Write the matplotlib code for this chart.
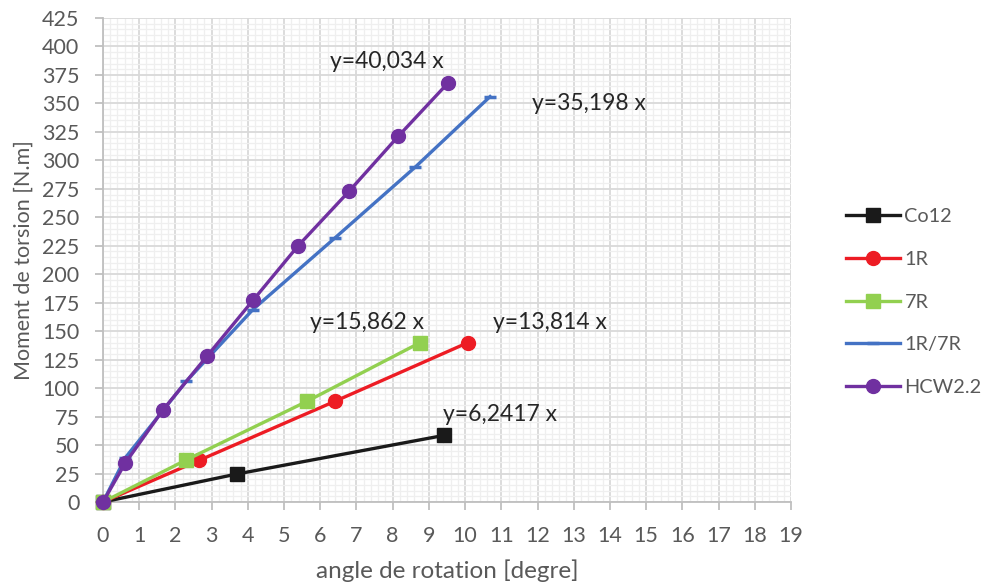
import matplotlib
matplotlib.use("Agg")
import matplotlib.pyplot as plt
from matplotlib.ticker import MultipleLocator

plt.rcParams['font.family'] = ['Lato', 'DejaVu Sans']

# Data
co12_x = [0, 3.7, 9.42]
co12_y = [0, 24.6, 58.5]
r1_x = [0, 2.65, 6.41, 10.08]
r1_y = [0, 36.5, 88.5, 140.0]
r7_x = [0, 2.29, 5.64, 8.76]
r7_y = [0, 36.8, 88.5, 140.0]
r17_x = [0, 0.62, 2.3, 4.14, 6.41, 8.62, 10.69]
r17_y = [0, 39, 106, 169, 232, 294, 356]
hcw_x = [0, 0.61, 1.66, 2.87, 4.14, 5.39, 6.80, 8.15, 9.53]
hcw_y = [0, 34, 81, 128, 177, 225, 273, 321, 368]

labels = ["Co12", "1R", "7R", "1R/7R", "HCW2.2"]
eq_texts = ["y=40,034 x", "y=35,198 x", "y=15,862 x", "y=13,814 x", "y=6,2417 x"]

fig = plt.figure(figsize=(9.84, 5.87), dpi=100)
ax = fig.add_axes([103/984, 1-502/587, (791-103)/984, (502-18)/587])

ax.set_xlim(0, 19)
ax.set_ylim(0, 425)
ax.xaxis.set_major_locator(MultipleLocator(1))
ax.xaxis.set_minor_locator(MultipleLocator(0.2))
ax.yaxis.set_major_locator(MultipleLocator(25))
ax.yaxis.set_minor_locator(MultipleLocator(5))
ax.grid(which='minor', color='#efefef', linewidth=0.9)
ax.grid(which='major', color='#d9d9d9', linewidth=1.3)
ax.set_axisbelow(True)
for s in ['top', 'right']:
    ax.spines[s].set_visible(False)
for s in ['left', 'bottom']:
    ax.spines[s].set_color('#bfbfbf')
    ax.spines[s].set_linewidth(1.3)
ax.tick_params(which='major', colors='#bfbfbf', labelcolor='#595959', labelsize=15.5, length=6, width=1.3)
ax.tick_params(which='minor', length=0)
ax.tick_params(axis='x', pad=11)
ax.tick_params(axis='y', pad=11)

lw = 2.4
ax.plot(co12_x, co12_y, color='#1a1a1a', lw=lw, marker='s', ms=10, label=labels[0], clip_on=False, zorder=3)
ax.plot(r1_x, r1_y, color='#ed1c24', lw=lw, marker='o', ms=10, label=labels[1], clip_on=False, zorder=3)
ax.plot(r7_x, r7_y, color='#92d050', lw=lw, marker='s', ms=10, label=labels[2], clip_on=False, zorder=3)
ax.plot(r17_x, r17_y, color='#4472c4', lw=lw, marker='_', ms=8, mew=2.5, label=labels[3], clip_on=False, zorder=3)
ax.plot(hcw_x, hcw_y, color='#7030a0', lw=lw, marker='o', ms=10, label=labels[4], clip_on=False, zorder=4)

tkw = dict(fontsize=16.5, color='#262626', ha='center', va='center')
ax.text(7.84, 387, eq_texts[0], **tkw)
ax.text(13.43, 350, eq_texts[1], **tkw)
ax.text(7.3, 158, eq_texts[2], **tkw)
ax.text(12.35, 158, eq_texts[3], **tkw)
ax.text(10.95, 77, eq_texts[4], **tkw)

ax.set_xlabel("angle de rotation [degre]", fontsize=17.5, color='#595959', labelpad=10)
ax.set_ylabel("Moment de torsion [N.m]", fontsize=15.5, color='#595959', labelpad=6)

leg = fig.legend(loc='upper left', bbox_to_anchor=(828/984, 1-190/587), frameon=False,
                 fontsize=14.3, handlelength=2.7, labelspacing=1.3, handletextpad=0.25)
for t in leg.get_texts():
    t.set_color('#595959')

fig.savefig("out.png", dpi=100)
